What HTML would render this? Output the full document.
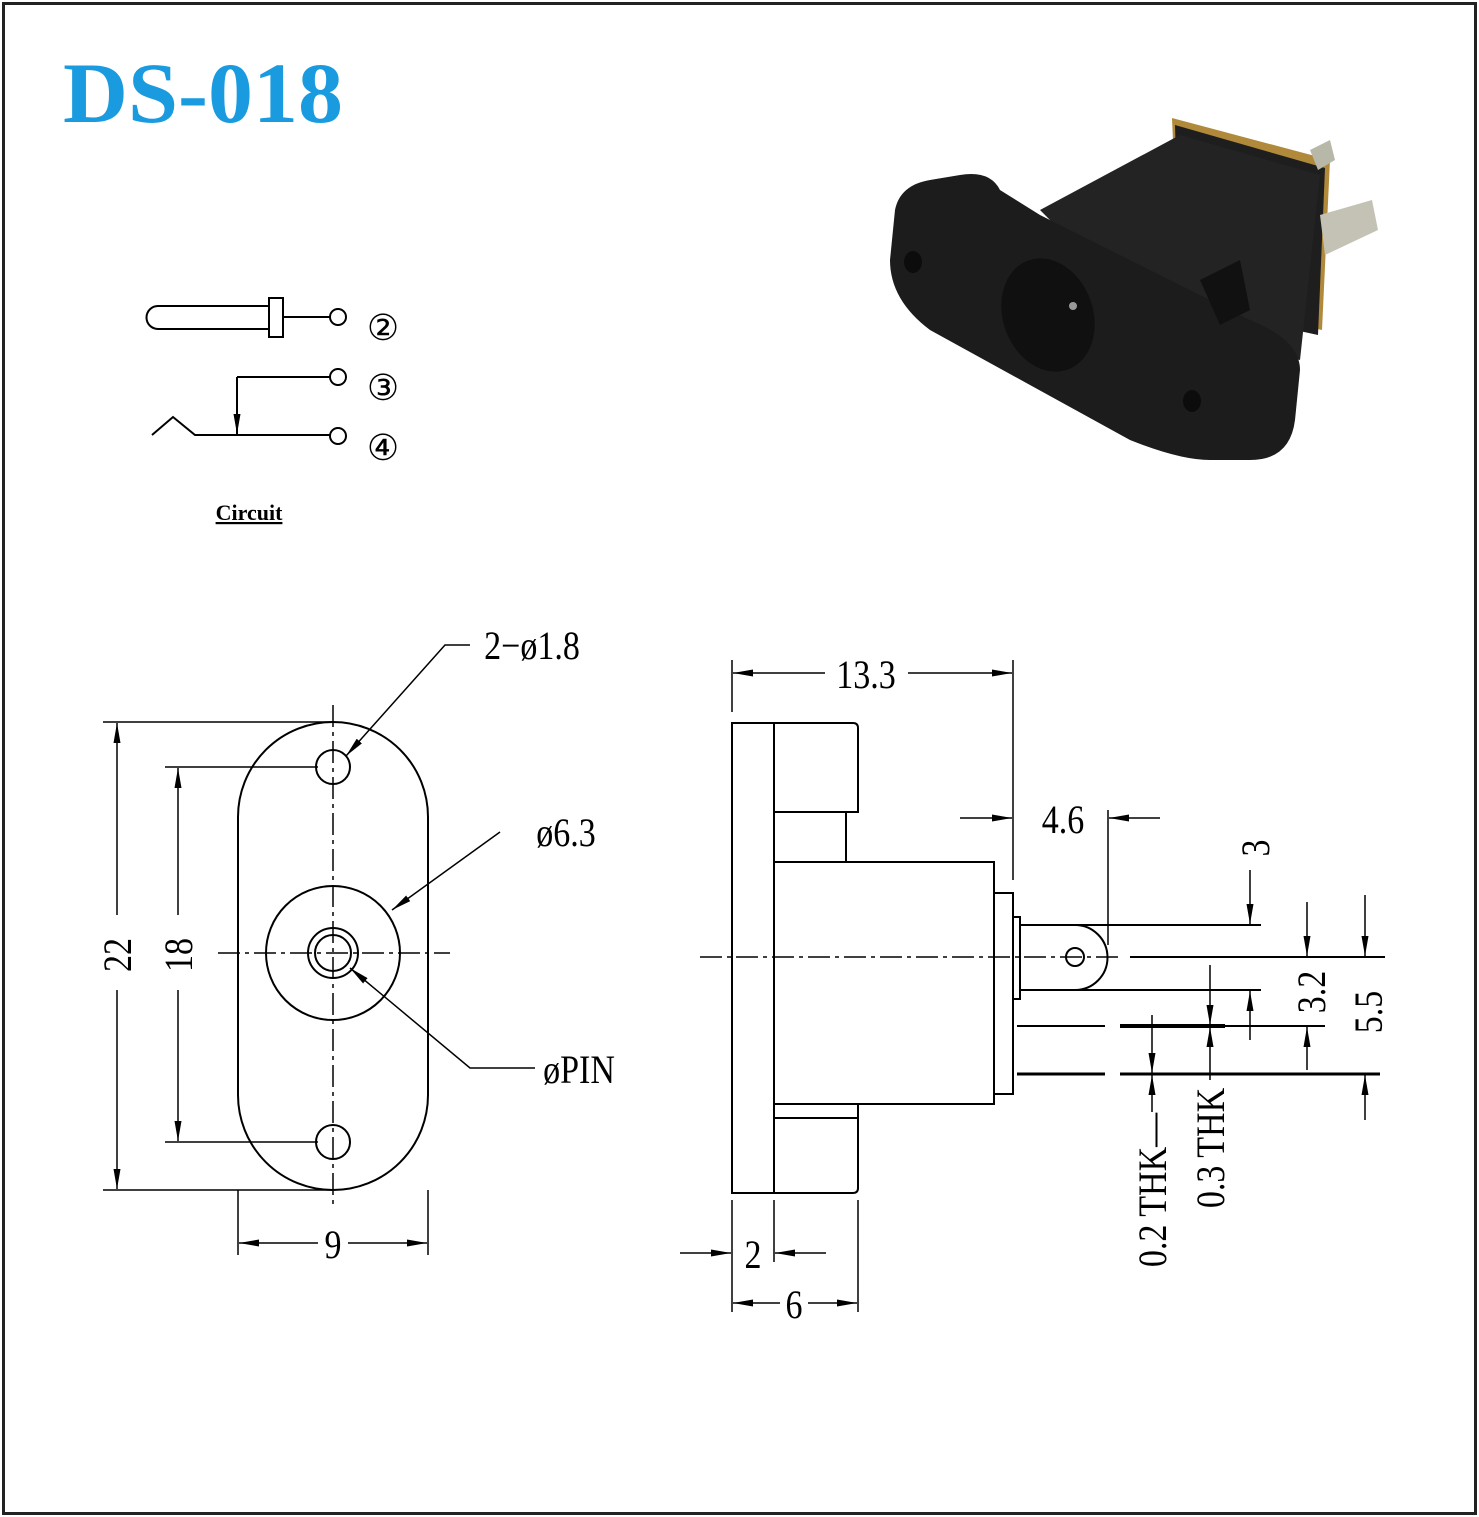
<!DOCTYPE html>
<html><head><meta charset="utf-8"><style>
body{margin:0;background:#fff}
svg{display:block}
text{font-family:"Liberation Serif",serif}
</style></head><body>
<svg width="1479" height="1517" viewBox="0 0 1479 1517" xmlns="http://www.w3.org/2000/svg">
<defs>
<marker id="a" viewBox="0 0 20 8" refX="20" refY="4" markerWidth="20" markerHeight="8" markerUnits="userSpaceOnUse" orient="auto"><path d="M0,0.5 L20,4 L0,7.5 z" fill="#000"/></marker>
</defs>
<rect x="0" y="0" width="1479" height="1517" fill="#fff"/>
<rect x="3.5" y="3.5" width="1472" height="1510" fill="none" stroke="#222" stroke-width="3"/>
<text x="63" y="122" font-size="86" font-weight="bold" fill="#1a9be0" textLength="280" lengthAdjust="spacingAndGlyphs">DS-018</text>

<!-- photo -->
<g>
<polygon points="1172,118 1330,160 1322,330 1180,300" fill="#b08a3a"/>
<polygon points="1175,125 1325,168 1318,335 1180,305" fill="#1e1e1e"/>
<polygon points="1310,150 1330,140 1335,160 1318,170" fill="#b8b8a8"/>
<polygon points="1320,215 1372,200 1378,230 1325,255" fill="#c4c2b4"/>
<polygon points="1040,210 1180,135 1320,175 1300,360 1160,330" fill="#232323"/>
<path d="M895,210 Q900,185 930,180 L960,175 Q990,170 1000,190 L1040,215 L1250,320 Q1300,340 1300,370 L1295,420 Q1290,460 1250,460 L1210,460 Q1180,460 1130,440 L930,330 Q890,300 890,260 Z" fill="#1c1c1c"/>
<ellipse cx="1048" cy="315" rx="45" ry="58" fill="#101010" transform="rotate(-20 1048 315)"/>
<circle cx="1073" cy="306" r="4" fill="#999"/>
<ellipse cx="913" cy="262" rx="9" ry="11" fill="#0c0c0c"/>
<ellipse cx="1192" cy="401" rx="9" ry="11" fill="#0c0c0c"/>
<polygon points="1200,280 1240,260 1250,310 1220,325" fill="#111"/>
</g>

<!-- circuit -->
<g fill="none" stroke="#000" stroke-width="2">
<path d="M270,306 H158 A11.5,11.5 0 0 0 158,329 H270"/>
<rect x="269" y="298" width="14" height="39"/>
<line x1="283" y1="317" x2="330" y2="317"/>
<circle cx="338" cy="317" r="8"/>
<line x1="237" y1="377" x2="330" y2="377"/>
<circle cx="338" cy="377" r="8"/>
<line x1="237" y1="377" x2="237" y2="434" marker-end="url(#a)"/>
<polyline points="152,435 173,417 195,435 330,435"/>
<circle cx="338" cy="436" r="8"/>
</g>
<g font-size="36" text-anchor="middle">
<text x="383" y="340">②</text><text x="383" y="400">③</text><text x="383" y="460">④</text>
</g>
<text x="249" y="520" font-size="22" font-weight="bold" text-anchor="middle" text-decoration="underline">Circuit</text>

<!-- left drawing -->
<g fill="none" stroke="#000" stroke-width="2">
<rect x="238" y="722" width="190" height="468" rx="95" ry="95"/>
<circle cx="333" cy="767" r="17"/>
<circle cx="333" cy="1142" r="17"/>
<circle cx="333" cy="953" r="67"/>
<circle cx="333" cy="953" r="25"/>
<circle cx="333" cy="953" r="18"/>
<g stroke-width="1.5" stroke-dasharray="22,5,4,5">
<line x1="218" y1="953" x2="450" y2="953"/>
<line x1="333" y1="705" x2="333" y2="1205"/>
</g>
<g stroke-width="1.5">
<line x1="103" y1="722" x2="333" y2="722"/>
<line x1="103" y1="1190" x2="333" y2="1190"/>
<line x1="117" y1="915" x2="117" y2="723" marker-end="url(#a)"/>
<line x1="117" y1="990" x2="117" y2="1189" marker-end="url(#a)"/>
<line x1="165" y1="767" x2="318" y2="767"/>
<line x1="165" y1="1142" x2="318" y2="1142"/>
<line x1="178" y1="915" x2="178" y2="768" marker-end="url(#a)"/>
<line x1="178" y1="990" x2="178" y2="1141" marker-end="url(#a)"/>
<line x1="238" y1="1190" x2="238" y2="1255"/>
<line x1="428" y1="1190" x2="428" y2="1255"/>
<line x1="318" y1="1243" x2="239" y2="1243" marker-end="url(#a)"/>
<line x1="348" y1="1243" x2="427" y2="1243" marker-end="url(#a)"/>
<polyline points="470,645 445,645 346,756" marker-end="url(#a)"/>
<line x1="500" y1="832" x2="392" y2="910" marker-end="url(#a)"/>
<polyline points="535,1068 470,1068 350,968" marker-end="url(#a)"/>
</g>
</g>
<g font-size="40" text-anchor="middle">
<text transform="translate(131,955) rotate(-90) scale(0.85,1)">22</text>
<text transform="translate(192,955) rotate(-90) scale(0.85,1)">18</text>
<text transform="translate(333,1258) scale(0.85,1)">9</text>
<text transform="translate(532,659) scale(0.85,1)">2−ø1.8</text>
<text transform="translate(566,846) scale(0.85,1)">ø6.3</text>
<text transform="translate(579,1083) scale(0.85,1)">øPIN</text>
</g>

<!-- right drawing -->
<g fill="none" stroke="#000" stroke-width="2">
<rect x="732" y="723" width="42" height="470"/>
<path d="M774,723 H853 Q858,723 858,728 V812 H774"/>
<line x1="846" y1="812" x2="846" y2="862"/>
<rect x="774" y="862" width="220" height="242"/>
<path d="M774,1104 H858 V1188 Q858,1193 853,1193 H774"/>
<line x1="774" y1="1118" x2="858" y2="1118"/>
<rect x="994" y="893" width="19" height="201"/>
<rect x="1013" y="917" width="7" height="82"/>
<path d="M1020,925 H1075 A32,32 0 0 1 1075,990 H1020"/>
<circle cx="1075" cy="957" r="9"/>
<line x1="1075" y1="925" x2="1261" y2="925"/>
<line x1="1075" y1="990" x2="1261" y2="990"/>
<line x1="1130" y1="957" x2="1385" y2="957"/>
<line x1="1017" y1="1026" x2="1105" y2="1026"/>
<line x1="1017" y1="1074" x2="1105" y2="1074" stroke-width="3"/>
<line x1="1120" y1="1026" x2="1225" y2="1026" stroke-width="4"/>
<line x1="1120" y1="1074" x2="1380" y2="1074" stroke-width="3"/>
<line x1="1225" y1="1026" x2="1325" y2="1026"/>
<line x1="700" y1="957" x2="1120" y2="957" stroke-width="1.5" stroke-dasharray="22,5,4,5"/>
<g stroke-width="1.5">
<line x1="732" y1="660" x2="732" y2="712"/>
<line x1="1013" y1="660" x2="1013" y2="880"/>
<line x1="825" y1="673" x2="733" y2="673" marker-end="url(#a)"/>
<line x1="908" y1="673" x2="1012" y2="673" marker-end="url(#a)"/>
<line x1="960" y1="818" x2="1012" y2="818" marker-end="url(#a)"/>
<line x1="1108" y1="810" x2="1108" y2="945"/>
<line x1="1160" y1="818" x2="1109" y2="818" marker-end="url(#a)"/>
<line x1="1250" y1="870" x2="1250" y2="924" marker-end="url(#a)"/>
<line x1="1250" y1="1040" x2="1250" y2="991" marker-end="url(#a)"/>
<line x1="1307" y1="902" x2="1307" y2="956" marker-end="url(#a)"/>
<line x1="1307" y1="1070" x2="1307" y2="1027" marker-end="url(#a)"/>
<line x1="1365" y1="895" x2="1365" y2="956" marker-end="url(#a)"/>
<line x1="1365" y1="1120" x2="1365" y2="1075" marker-end="url(#a)"/>
<line x1="1152" y1="1015" x2="1152" y2="1073" marker-end="url(#a)"/>
<line x1="1152" y1="1112" x2="1152" y2="1075" marker-end="url(#a)"/>
<line x1="1210" y1="965" x2="1210" y2="1025" marker-end="url(#a)"/>
<line x1="1210" y1="1080" x2="1210" y2="1027" marker-end="url(#a)"/>
<line x1="732" y1="1200" x2="732" y2="1312"/>
<line x1="774" y1="1200" x2="774" y2="1262"/>
<line x1="858" y1="1200" x2="858" y2="1312"/>
<line x1="680" y1="1253" x2="731" y2="1253" marker-end="url(#a)"/>
<line x1="826" y1="1253" x2="775" y2="1253" marker-end="url(#a)"/>
<line x1="780" y1="1303" x2="733" y2="1303" marker-end="url(#a)"/>
<line x1="808" y1="1303" x2="857" y2="1303" marker-end="url(#a)"/>
</g>
</g>
<g font-size="40" text-anchor="middle">
<text transform="translate(866,688) scale(0.85,1)">13.3</text>
<text transform="translate(1063,833) scale(0.85,1)">4.6</text>
<text transform="translate(753,1268) scale(0.85,1)">2</text>
<text transform="translate(794,1318) scale(0.85,1)">6</text>
<text transform="translate(1269,848) rotate(-90) scale(0.85,1)">3</text>
<text transform="translate(1325,992) rotate(-90) scale(0.85,1)">3.2</text>
<text transform="translate(1382,1012) rotate(-90) scale(0.85,1)">5.5</text>
<text transform="translate(1166,1190) rotate(-90) scale(0.85,1)">0.2 THK—</text>
<text transform="translate(1224,1148) rotate(-90) scale(0.85,1)">0.3 THK</text>
</g>
</svg>
</body></html>
